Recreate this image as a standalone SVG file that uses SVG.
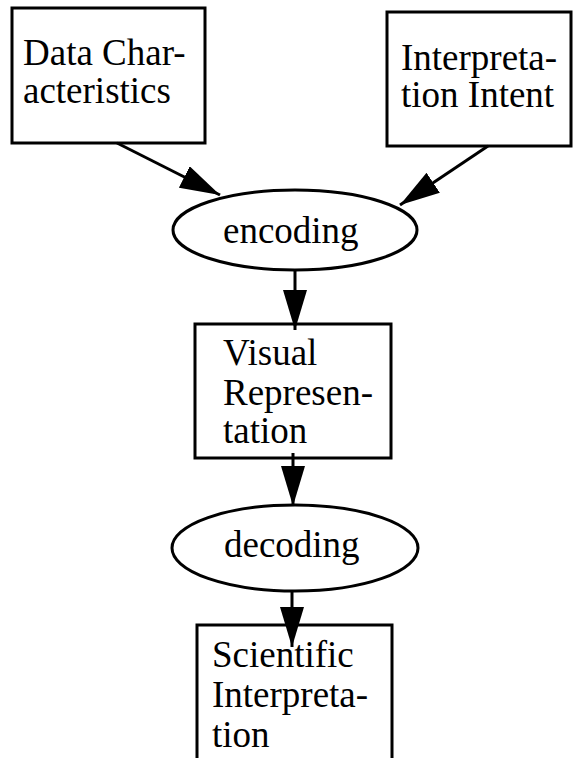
<svg xmlns="http://www.w3.org/2000/svg" width="573" height="758" viewBox="0 0 573 758">
<style>
.box{fill:#fff;stroke:#000;stroke-width:3}
.ell{fill:#fff;stroke:#000;stroke-width:3}
.t{font-family:"Liberation Serif","Times New Roman",serif;font-size:37px;fill:#000}
.c{fill:none;stroke:#000;stroke-width:3}
</style>
<defs>
<marker id="ah" markerUnits="userSpaceOnUse" markerWidth="40" markerHeight="24" refX="40" refY="12" orient="auto">
<path d="M0,0 L40,12 L0,24 z" fill="#000"/>
</marker>
</defs>
<rect width="573" height="758" fill="#fff"/>
<g id="data-characteristics">
<rect class="box" x="12" y="8" width="193" height="135"/>
<text class="t" x="23" y="65">Data Char-</text>
<text class="t" x="23" y="103">acteristics</text>
</g>
<g id="interpretation-intent">
<rect class="box" x="387" y="12" width="184" height="134"/>
<text class="t" x="401" y="70">Interpreta-</text>
<text class="t" x="401" y="107">tion Intent</text>
</g>
<g id="encoding">
<ellipse class="ell" cx="295" cy="230" rx="122" ry="40"/>
<text class="t" x="223" y="243">encoding</text>
</g>
<g id="visual-representation">
<rect class="box" x="195" y="324" width="196" height="134"/>
<text class="t" x="223" y="365">Visual</text>
<text class="t" x="223" y="405">Represen-</text>
<text class="t" x="223" y="443">tation</text>
</g>
<g id="decoding">
<ellipse class="ell" cx="295" cy="548" rx="123" ry="43"/>
<text class="t" x="224" y="557">decoding</text>
</g>
<g id="scientific-interpretation">
<rect class="box" x="197" y="625" width="195" height="145"/>
<text class="t" x="212" y="667">Scientific</text>
<text class="t" x="212" y="707">Interpreta-</text>
<text class="t" x="212" y="747">tion</text>
</g>
<g id="connectors">
<line class="c" x1="117" y1="143" x2="220" y2="195" marker-end="url(#ah)"/>
<line class="c" x1="488" y1="146" x2="400" y2="205" marker-end="url(#ah)"/>
<line class="c" x1="295" y1="270" x2="295" y2="330" marker-end="url(#ah)"/>
<line class="c" x1="293" y1="453" x2="293" y2="506" marker-end="url(#ah)"/>
<line class="c" x1="292" y1="591" x2="292" y2="647" marker-end="url(#ah)"/>
</g>
</svg>
